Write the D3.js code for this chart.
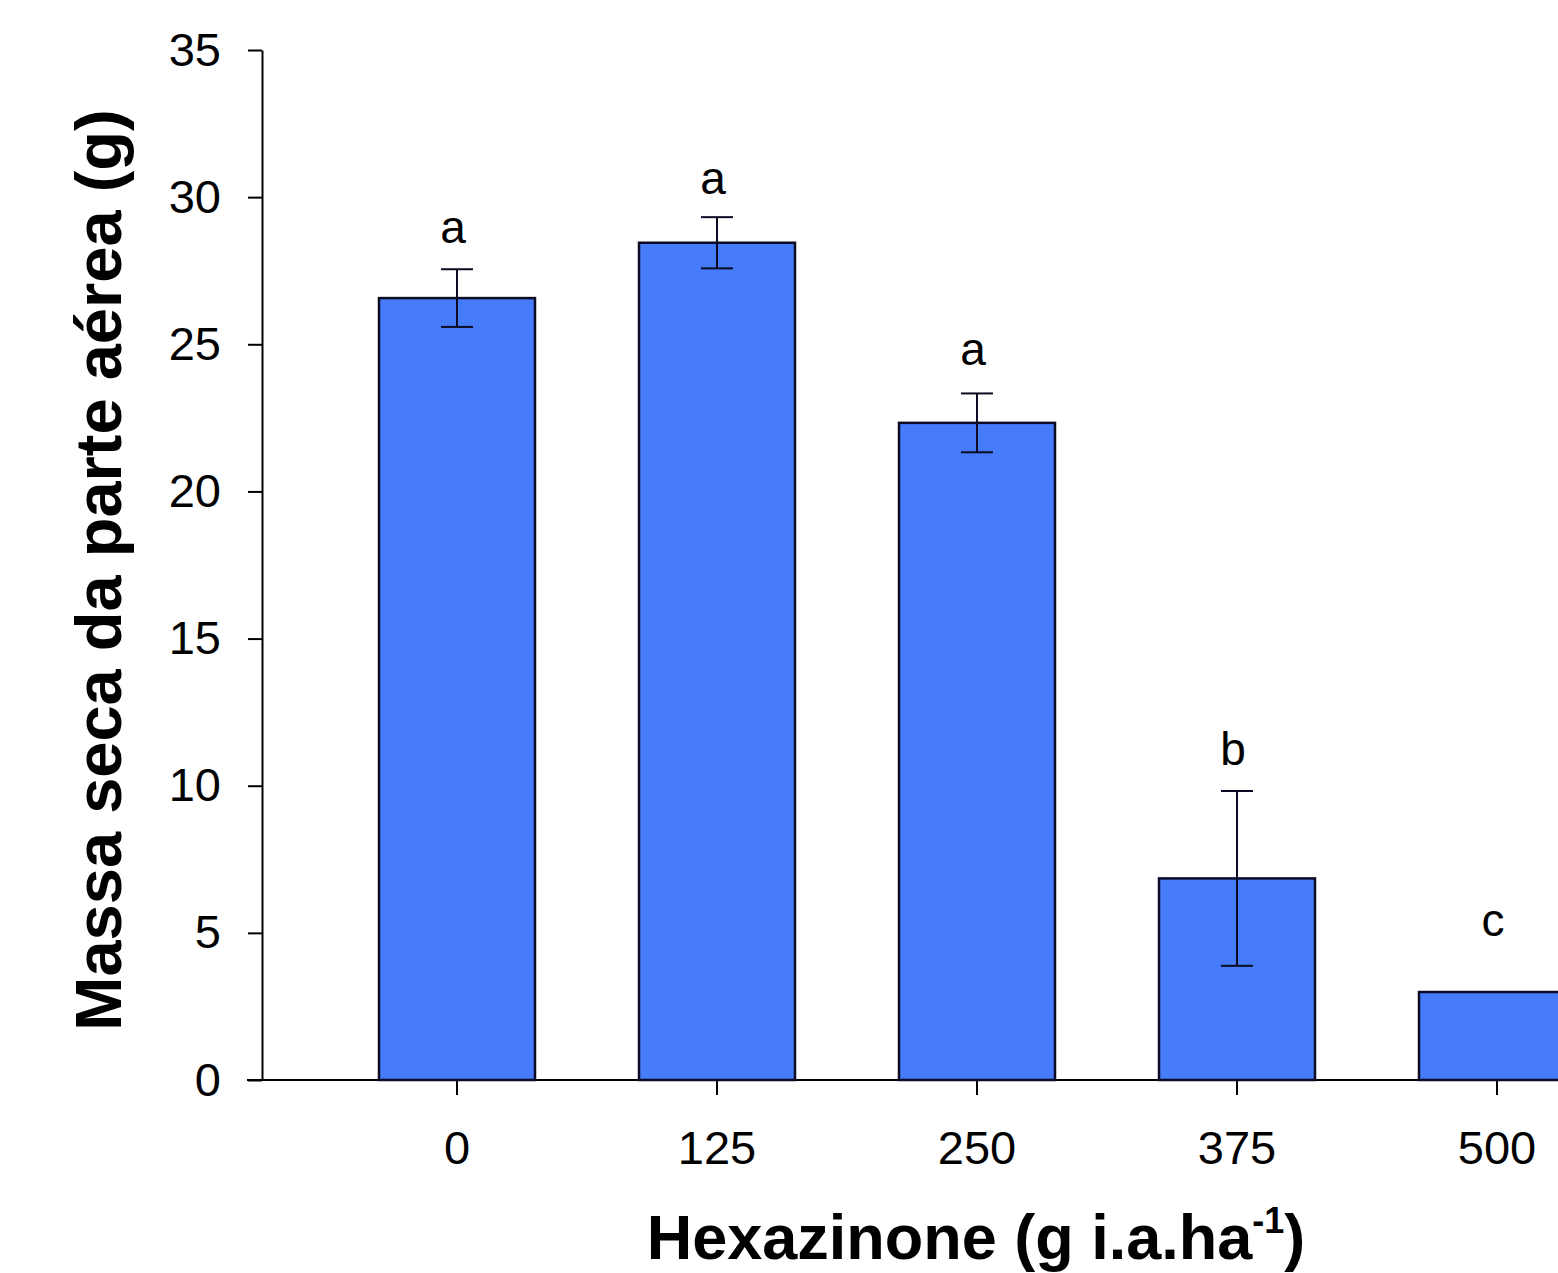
<!DOCTYPE html>
<html>
<head>
<meta charset="utf-8">
<script src="https://cdn.jsdelivr.net/npm/d3@7"></script>
<style>
  body { margin: 0; background: #fff; }
  svg { display: block; }
  text { font-family: "Liberation Sans", Arial, sans-serif; fill: #000; }
</style>
</head>
<body>
<div id="chart"></div>
<script>
// data
var doses = ["0", "125", "250", "375", "500"];
var means = [26.57, 28.45, 22.33, 6.85, 2.99];
var errs = [0.98, 0.87, 1.0, 2.97, 0];
var letters = ["a", "a", "a", "b", "c"];
var letterAt = [28.45, 30.1, 24.3, 10.7, 4.9];   // baseline of the letter, in g
var yTicks = [0, 5, 10, 15, 20, 25, 30, 35];

var width = 1558, height = 1273;

var svg = d3.select("#chart")
    .append("svg")
    .attr("width", width)
    .attr("height", height);

// scales
var y = d3.scaleLinear()
    .domain([0, 35])
    .range([1080, 50]);

var x = d3.scaleBand()
    .domain(doses)
    .range([262, 1692])
    .paddingInner(0.4)
    .paddingOuter(0.45);

var data = doses.map(function(d, i) {
    return {dose: d, mean: means[i], err: errs[i], letter: letters[i], at: letterAt[i]};
});

// Y axis
var yAxis = svg.append("g")
    .attr("transform", "translate(262,0)")
    .call(d3.axisLeft(y).tickValues(yTicks).tickSize(14).tickSizeOuter(0).tickPadding(27));
yAxis.selectAll("path, line").attr("stroke", "#000").attr("stroke-width", 2);
yAxis.selectAll("text").style("font-size", "47px").attr("fill", "#000");

// X axis (line drawn by hand so it starts left of the y axis)
var xAxis = svg.append("g")
    .attr("transform", "translate(0,1080)")
    .call(d3.axisBottom(x).tickSize(15).tickPadding(36));
xAxis.select(".domain").remove();
xAxis.selectAll("line").attr("stroke", "#000").attr("stroke-width", 2);
xAxis.selectAll("text").style("font-size", "47px").attr("fill", "#000");

svg.append("line")
    .attr("x1", 247).attr("x2", x.range()[1])
    .attr("y1", y(0)).attr("y2", y(0))
    .attr("stroke", "#000")
    .attr("stroke-width", 2);

// bars
svg.selectAll("rect.bar")
    .data(data)
    .enter()
    .append("rect")
    .attr("class", "bar")
    .attr("x", function(d) { return x(d.dose); })
    .attr("y", function(d) { return y(d.mean); })
    .attr("width", x.bandwidth())
    .attr("height", function(d) { return y(0) - y(d.mean); })
    .attr("fill", "#467cfa")
    .attr("stroke", "#0b0b24")
    .attr("stroke-width", 2.5);

// error bars
var eb = svg.selectAll("g.err")
    .data(data.filter(function(d) { return d.err > 0; }))
    .enter()
    .append("g")
    .attr("class", "err")
    .attr("stroke", "#0b0b24")
    .attr("stroke-width", 2);

var cap = 16;
eb.append("line")
    .attr("x1", function(d) { return x(d.dose) + x.bandwidth() / 2; })
    .attr("x2", function(d) { return x(d.dose) + x.bandwidth() / 2; })
    .attr("y1", function(d) { return y(d.mean - d.err); })
    .attr("y2", function(d) { return y(d.mean + d.err); });
eb.append("line")
    .attr("x1", function(d) { return x(d.dose) + x.bandwidth() / 2 - cap; })
    .attr("x2", function(d) { return x(d.dose) + x.bandwidth() / 2 + cap; })
    .attr("y1", function(d) { return y(d.mean + d.err); })
    .attr("y2", function(d) { return y(d.mean + d.err); });
eb.append("line")
    .attr("x1", function(d) { return x(d.dose) + x.bandwidth() / 2 - cap; })
    .attr("x2", function(d) { return x(d.dose) + x.bandwidth() / 2 + cap; })
    .attr("y1", function(d) { return y(d.mean - d.err); })
    .attr("y2", function(d) { return y(d.mean - d.err); });

// letters (drawn a touch left of the bar centre, as in the original)
svg.selectAll("text.letter")
    .data(data)
    .enter()
    .append("text")
    .attr("class", "letter")
    .attr("x", function(d) { return x(d.dose) + x.bandwidth() / 2 - 4; })
    .attr("y", function(d) { return y(d.at); })
    .attr("text-anchor", "middle")
    .style("font-size", "46px")
    .text(function(d) { return d.letter; });

// axis titles
svg.append("text")
    .attr("transform", "translate(121,570) rotate(-90)")
    .attr("text-anchor", "middle")
    .style("font-size", "65px")
    .style("font-weight", "bold")
    .text("Massa seca da parte aérea (g)");

var xt = svg.append("text")
    .attr("x", 976)
    .attr("y", 1259)
    .attr("text-anchor", "middle")
    .style("font-size", "63px")
    .style("font-weight", "bold");
xt.append("tspan").text("Hexazinone (g i.a.ha");
xt.append("tspan").attr("dy", -26).style("font-size", "36px").text("-1");
xt.append("tspan").attr("dy", 26).text(")");
</script>
</body>
</html>
